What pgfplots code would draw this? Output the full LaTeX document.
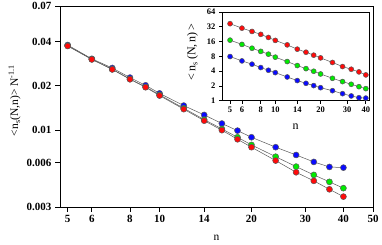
\documentclass[border=0pt]{standalone}
\usepackage{fontspec}
\setmainfont{Liberation Serif}
\usepackage{pgfplots}
\pgfplotsset{compat=1.18}
\usepackage{pgfplotstable}
\definecolor{cblue}{RGB}{10,10,255}
\definecolor{cgreen}{RGB}{0,235,0}
\definecolor{cred}{RGB}{255,10,10}
\pgfplotstableread{
n blue green red
5 0.0380 0.0376 0.0374
6 0.0306 0.0304 0.0303
7 0.0265 0.0260 0.0259
8 0.0228 0.0223 0.0222
9 0.0202 0.0197 0.0196
10 0.0178 0.0174 0.0172
12 0.0147 0.0141 0.0139
14 0.0127 0.0118 0.0116
16 0.0111 0.0102 0.0100
18 0.00993 0.00895 0.00867
20 0.00895 0.00794 0.00766
24 0.00766 0.0066 0.00621
28 0.00678 0.00565 0.00517
32 0.00608 0.00496 0.00452
36 0.00562 0.00445 0.00396
40 0.00556 0.00403 0.00353
}\maintab
\pgfplotstableread{
n blue green red
5 7.93 17.1 37.0
6 6.46 14.0 30.0
7 5.54 11.7 25.7
8 4.73 10.1 22.4
9 4.17 8.86 19.4
10 3.73 7.7 16.9
12 3.04 6.27 13.7
14 2.57 5.2 11.2
16 2.26 4.5 9.7
18 2.03 3.98 8.45
20 1.84 3.5 7.45
24 1.60 2.86 6.0
28 1.39 2.45 4.96
32 1.25 2.16 4.37
36 1.15 1.93 3.86
40 1.13 1.76 3.35
}\insettab
\begin{document}
\begin{tikzpicture}
\pgfplotsset{
  every axis plot/.append style={draw=black!65, line width=0.5pt},
  /pgf/number format/assume math mode=true,
}
\begin{axis}[name=main, at={(0,0)}, anchor=south west, scale only axis,
  width=313pt, height=201pt,
  xmode=log, ymode=log,
  xmin=4.72, xmax=50, ymin=0.003, ymax=0.07,
  xtick={5,6,8,10,14,20,30,40,50},
  xticklabels={5,6,8,10,14,20,30,40,50},
  ytick={0.003,0.006,0.01,0.02,0.04,0.07},
  yticklabels={0.003,0.006,0.01,0.02,0.04,0.07},
  minor xtick={}, minor ytick={},
  tick pos=left, tick align=outside,
  major tick length=5pt,
  axis line style={line width=0.9pt},
  tick style={line width=0.9pt, black},
  ticklabel style={font=\fontsize{11}{12}\selectfont\bfseries},
  xlabel={n}, ylabel={<n\textsubscript{s}(N,n)> N\textsuperscript{-1.1}},
  label style={font=\fontsize{11.5}{13}\selectfont},
  xlabel style={at={(axis description cs:0.5,-0.155)}, anchor=center},
  ylabel style={at={(axis description cs:-0.145,0.53)}, anchor=center},
]
\addplot[mark=*, mark size=3pt, mark options={draw=none, fill=cblue}] table[x=n,y=blue]{\maintab};
\addplot[mark=*, mark size=3pt, mark options={draw=none, fill=cgreen}] table[x=n,y=green]{\maintab};
\addplot[mark=*, mark size=3pt, mark options={draw=none, fill=cred}] table[x=n,y=red]{\maintab};
\end{axis}
\begin{axis}[name=inset, at={(162pt,106.3pt)}, anchor=south west, scale only axis,
  width=147pt, height=88.7pt,
  axis background/.style={fill=white},
  xmode=log, ymode=log,
  xmin=4.42, xmax=42, ymin=1, ymax=64,
  xtick={5,6,8,10,14,20,30,40},
  xticklabels={5,6,8,10,14,20,30,40},
  ytick={1,2,4,8,16,32,64},
  yticklabels={1,2,4,8,16,32,64},
  minor xtick={}, minor ytick={},
  tick pos=left, tick align=outside,
  major tick length=3pt,
  axis line style={line width=0.9pt},
  tick style={line width=0.8pt, black},
  ticklabel style={font=\fontsize{8.5}{9}\selectfont\bfseries},
  xlabel={n}, ylabel={<\,n\textsubscript{s}\,(N,\,n)\,>},
  label style={font=\fontsize{12}{13}\selectfont},
  xlabel style={at={(axis description cs:0.5,-0.29)}, anchor=center},
  ylabel style={at={(axis description cs:-0.2,0.55)}, anchor=center},
]
\addplot[mark=*, mark size=2.5pt, mark options={draw=none, fill=cblue}] table[x=n,y=blue]{\insettab};
\addplot[mark=*, mark size=2.5pt, mark options={draw=none, fill=cgreen}] table[x=n,y=green]{\insettab};
\addplot[mark=*, mark size=2.5pt, mark options={draw=none, fill=cred}] table[x=n,y=red]{\insettab};
\end{axis}
\pgfresetboundingbox
\useasboundingbox (-60pt,-37pt) rectangle (322pt,207pt);
\end{tikzpicture}
\end{document}
